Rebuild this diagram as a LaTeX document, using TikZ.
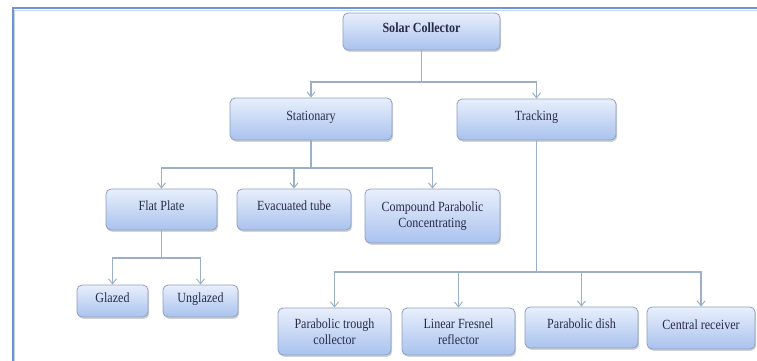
\documentclass[tikz,border=0pt]{standalone}
\usepackage{fontspec}
\setmainfont{Liberation Serif}[FakeStretch=0.86]
\usetikzlibrary{arrows.meta,shadows}
\definecolor{frameblue}{HTML}{6F96D2}
\definecolor{boxtop}{HTML}{E8EFFC}
\definecolor{boxbot}{HTML}{A9C2EE}
\definecolor{boxedge}{HTML}{8C9FBD}
\definecolor{txt}{HTML}{2A2A48}
\definecolor{conn}{HTML}{9BB0C6}
\tikzset{
  box/.style={rectangle, rounded corners=5pt, draw=boxedge, line width=0.8pt,
    top color=boxtop, bottom color=boxbot, text=txt, align=center,
    font=\fontsize{14}{16.5}\selectfont, inner sep=2pt,
    drop shadow={shadow xshift=1.2pt, shadow yshift=-1.8pt, opacity=0.35, fill=gray}},
  onebox/.style={box, text depth=7pt},
  link/.style={draw=conn, line width=1.2pt},
  arr/.style={link, -{Straight Barb[length=5pt,width=8pt,line width=1pt]}},
}
\begin{document}
\begin{tikzpicture}[x=1pt,y=-1pt]
\useasboundingbox (0,0) rectangle (757,360);
\begin{scope}
\clip (0,0) rectangle (757,360);
\draw[frameblue, line width=2pt] (12.5,8) rectangle (790,390);
\draw[frameblue!40, line width=0.6pt] (14.5,10) rectangle (790,390);
\end{scope}

\node[onebox, minimum width=157pt, minimum height=37pt, font=\fontsize{14}{16.5}\selectfont\bfseries] (sc) at (421.5,31.5) {Solar Collector};
\node[onebox, minimum width=162pt, minimum height=42pt] (stat) at (311,119) {Stationary};
\node[onebox, minimum width=159pt, minimum height=41pt] (track) at (536.5,119.5) {Tracking};
\node[onebox, minimum width=111pt, minimum height=41pt] (flat) at (161.5,209.5) {Flat Plate};
\node[onebox, minimum width=114pt, minimum height=41pt] (evac) at (294,209.5) {Evacuated tube};
\node[box, minimum width=135pt, minimum height=54pt] (comp) at (432.5,216) {Compound Parabolic\\Concentrating};
\node[onebox, minimum width=71pt, minimum height=32pt] (glazed) at (112.5,301) {Glazed};
\node[onebox, minimum width=75pt, minimum height=32pt] (unglazed) at (200.5,301) {Unglazed};
\node[box, minimum width=113pt, minimum height=47pt] (trough) at (334.5,331.5) {Parabolic trough\\collector};
\node[box, minimum width=113pt, minimum height=47pt] (fresnel) at (458.5,331.5) {Linear Fresnel\\reflector};
\node[onebox, minimum width=113pt, minimum height=41pt] (dish) at (581.5,327.5) {Parabolic dish};
\node[onebox, minimum width=108pt, minimum height=42pt] (central) at (701,328) {Central receiver};

\coordinate (j1) at (0,82);
\coordinate (j2) at (0,168);
\coordinate (j3) at (0,258);
\coordinate (j4) at (0,272);

\draw[arr] (sc.south) -- (sc.south |- j1) -| (stat.north);
\draw[arr] (sc.south) -- (sc.south |- j1) -| (track.north);

\draw[arr] (stat.south) -- (stat.south |- j2) -| (flat.north);
\draw[arr] (stat.south) -- (stat.south |- j2) -| (evac.north);
\draw[arr] (stat.south) -- (stat.south |- j2) -| (comp.north);

\draw[arr] (flat.south) -- (flat.south |- j3) -| (glazed.north);
\draw[arr] (flat.south) -- (flat.south |- j3) -| (unglazed.north);

\draw[arr] (track.south) -- (track.south |- j4) -| (trough.north);
\draw[arr] (track.south) -- (track.south |- j4) -| (fresnel.north);
\draw[arr] (track.south) -- (track.south |- j4) -| (dish.north);
\draw[arr] (track.south) -- (track.south |- j4) -| (central.north);
\end{tikzpicture}
\end{document}
